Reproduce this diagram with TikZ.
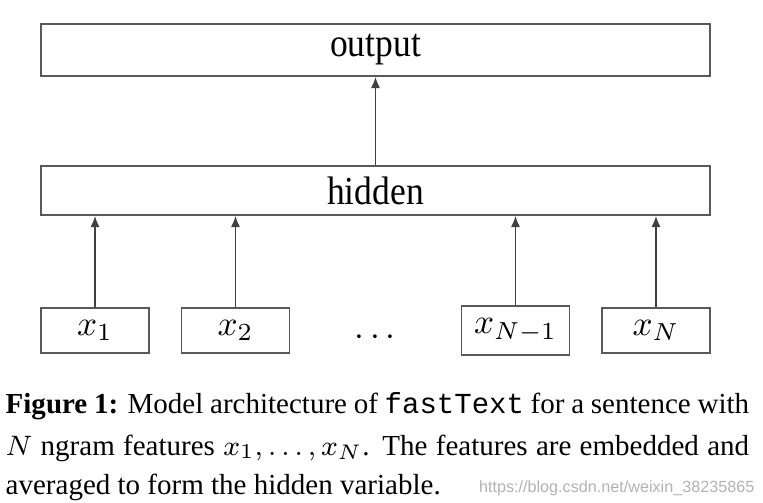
\documentclass[tikz,border=0pt]{standalone}
\usepackage[no-math]{fontspec}
\setmainfont{Liberation Serif}
\setmonofont{Liberation Mono}
\setsansfont{Liberation Sans}
\usetikzlibrary{arrows.meta}

\begin{document}
\begin{tikzpicture}[x=0.01cm,y=-0.01cm,
  layer/.style={draw=black!65,line width=0.5pt,minimum width=6.69cm,inner sep=0pt,
    font=\fontsize{10.1}{12}\selectfont},
  inbox/.style={draw=black!65,line width=0.45pt,minimum width=1.08cm,minimum height=0.45cm,inner sep=0pt,
    font=\fontsize{10}{12}\selectfont},
  feed/.style={draw=black!75,line width=0.4pt,-{Latex[length=3.2pt,width=2.6pt]}},
  capline/.style={anchor=base west,inner sep=0pt,font=\fontsize{8.25}{10}\selectfont}]
 \useasboundingbox (0,0) rectangle (763,503);

 %layers
 \node[layer,minimum height=0.52cm] (output) at (375.5,50) {\scalebox{1}[1.12]{output}};
 \node[layer,minimum height=0.49cm] (hidden) at (375.5,190.5) {\scalebox{1}[1.12]{hidden}};

 %ngram inputs
 \node[inbox] (x1) at (95,330.5) {$x_1$};
 \node[inbox] (x2) at (235.5,330.5) {$x_2$};
 \node (dots) at (375,338) {$\cdots$};
 \node[inbox,minimum height=0.49cm] (xN1) at (515.5,330.5) {$x_{N-1}$};
 \node[inbox] (xN) at (656,330.5) {$x_N$};

 %arrows
 \draw[feed] (hidden) -- (output);
 \draw[feed] (x1) -- (x1 |- hidden.south);
 \draw[feed] (x2) -- (x2 |- hidden.south);
 \draw[feed] (xN1) -- (xN1 |- hidden.south);
 \draw[feed] (xN) -- (xN |- hidden.south);

 %caption
 \node[capline] (cap1) at (5,413) {\makebox[7.43cm][s]{\textbf{Figure 1:} Model architecture of \texttt{fastText} for a sentence with}};
 \node[capline] (cap2) at (5,455) {\makebox[7.43cm][s]{$N$ ngram features $x_1,\ldots,x_N$. The features are embedded and}};
 \node[capline] (cap3) at (5,494) {averaged to form the hidden variable.};
 \node[anchor=base east,inner sep=0pt,text=black!30,font=\sffamily\fontsize{4.6}{5}\selectfont] (mark) at (755,492) {https://blog.csdn.net/weixin\_38235865};
\end{tikzpicture}
\end{document}
